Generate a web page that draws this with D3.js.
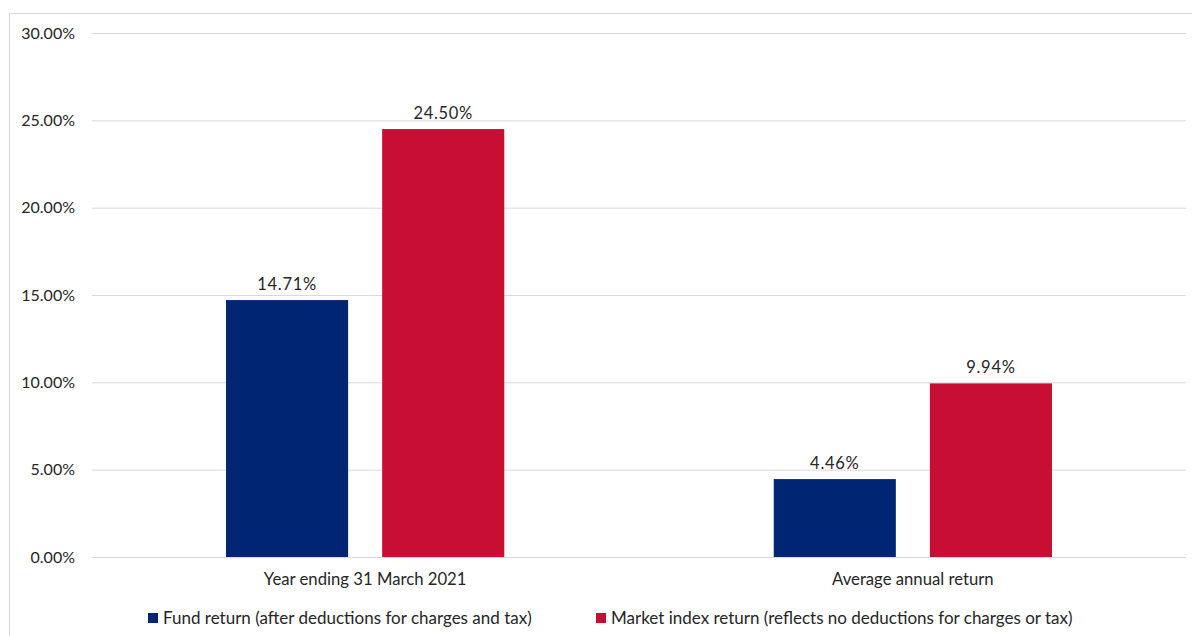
<!DOCTYPE html>
<html><head><meta charset="utf-8">
<script src="https://cdn.jsdelivr.net/npm/d3@7"></script>
<style>body{margin:0;background:#fff;} svg{display:block;} text{font-family:Lato, "Open Sans", sans-serif;fill:#262626;}</style>
</head><body>
<svg id="c" width="1192" height="636"></svg>
<script>
const categories = ["Year ending 31 March 2021", "Average annual return"];
const seriesNames = ["Fund return (after deductions for charges and tax)", "Market index return (reflects no deductions for charges or tax)"];
const fundValues = [14.71, 4.46];
const marketValues = [24.50, 9.94];
const yTicks = [0, 5, 10, 15, 20, 25, 30];
const colors = ["#002673", "#C80E32"];

(function(){
const svg = d3.select("#c");
svg.append("rect").attr("x",9.5).attr("y",13.5).attr("width",1200).attr("height",700)
  .attr("fill","none").attr("stroke","#d9d9d9");

const pl = 92, pr = 1186, pt = 33, pb = 557;
const y = d3.scaleLinear().domain([0,30]).range([pb, pt]);
const x0 = d3.scaleBand().domain(categories).range([pl, pr]).paddingInner(0.492).paddingOuter(0.2447);
const x1 = d3.scaleBand().domain([0,1]).range([0, x0.bandwidth()]).paddingInner(0.218);

const yAxis = d3.axisLeft(y).tickValues(yTicks).tickSize(-(pr-pl)).tickFormat(d => d.toFixed(2)+"%").tickPadding(17);
const ga = svg.append("g").attr("transform",`translate(${pl},0)`).call(yAxis);
ga.select(".domain").remove();
ga.selectAll(".tick line").attr("stroke","#d9d9d9").attr("stroke-width",1);
ga.selectAll(".tick text").attr("font-size","16px").attr("fill","#262626").style("font-family","Lato, sans-serif");

const data = categories.map((c,i)=>({c, vals:[fundValues[i], marketValues[i]]}));
const g = svg.append("g");
data.forEach(d=>{
  d.vals.forEach((v,j)=>{
    const bx = x0(d.c) + x1(j);
    g.append("rect").attr("x",bx).attr("y",y(v)).attr("width",x1.bandwidth()).attr("height",y(0)-y(v)).attr("fill",colors[j]);
    g.append("text").attr("x",bx + x1.bandwidth()/2).attr("y",y(v)-10).attr("text-anchor","middle")
      .attr("font-size","16.5px").attr("letter-spacing", "0.7px").text(v.toFixed(2)+"%");
  });
  g.append("text").attr("x",x0(d.c)+x0.bandwidth()/2).attr("y",585).attr("text-anchor","middle")
    .attr("font-size","16.7px").text(d.c);
});

const leg = svg.append("g");
const legX = [148, 596];
seriesNames.forEach((s,i)=>{
  leg.append("rect").attr("x",legX[i]).attr("y",613).attr("width",10).attr("height",10).attr("fill",colors[i]);
  leg.append("text").attr("x",legX[i]+15).attr("y",624).attr("font-size","17px").text(s);
});
})();
</script>
</body></html>
